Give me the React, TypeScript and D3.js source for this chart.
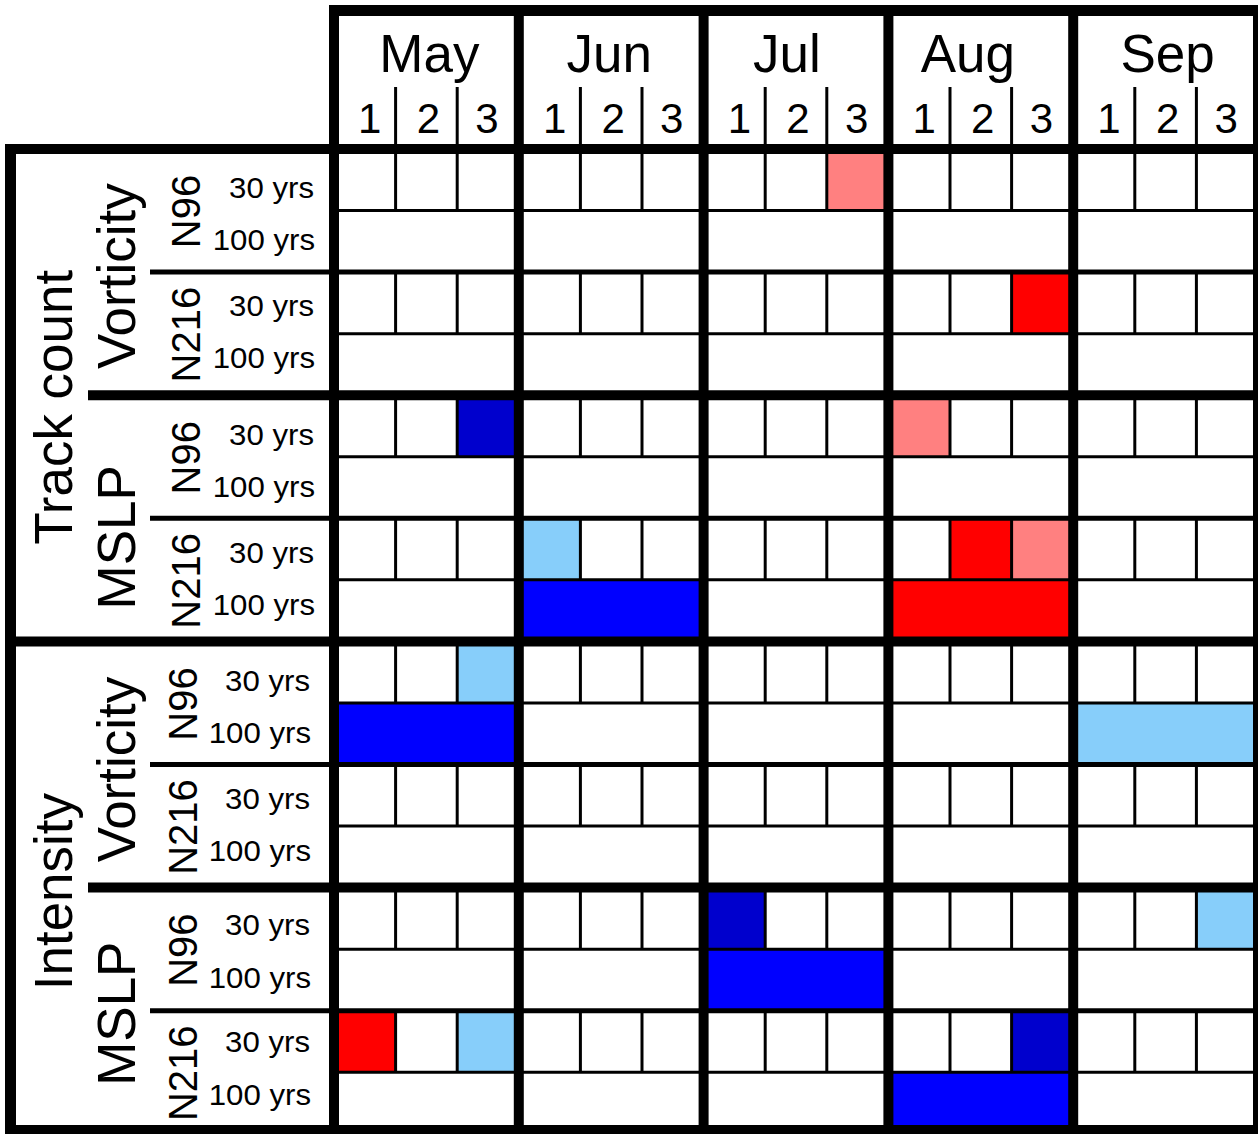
import React from "react";
import * as d3 from "d3";

// ---------- data ----------
const months = ["May", "Jun", "Jul", "Aug", "Sep"];
const dekads = ["1", "2", "3"];
const metrics = ["Track count", "Intensity"];
const variables = ["Vorticity", "MSLP"];
const resolutions = ["N96", "N216"];
const periods = ["30 yrs", "100 yrs"];

// significance codes: "R" strong +, "r" weak +, "B" strong -, "D" strong - (dark), "b" weak -, "" none
// 30-yr rows: one code per dekad (15); 100-yr rows: one code per month (5)
const tcVortN96y30 = ["", "", "", "", "", "", "", "", "r", "", "", "", "", "", ""];
const tcVortN96y100 = ["", "", "", "", ""];
const tcVortN216y30 = ["", "", "", "", "", "", "", "", "", "", "", "R", "", "", ""];
const tcVortN216y100 = ["", "", "", "", ""];
const tcMslpN96y30 = ["", "", "D", "", "", "", "", "", "", "r", "", "", "", "", ""];
const tcMslpN96y100 = ["", "", "", "", ""];
const tcMslpN216y30 = ["", "", "", "b", "", "", "", "", "", "", "R", "r", "", "", ""];
const tcMslpN216y100 = ["", "B", "", "R", ""];
const inVortN96y30 = ["", "", "b", "", "", "", "", "", "", "", "", "", "", "", ""];
const inVortN96y100 = ["B", "", "", "", "b"];
const inVortN216y30 = ["", "", "", "", "", "", "", "", "", "", "", "", "", "", ""];
const inVortN216y100 = ["", "", "", "", ""];
const inMslpN96y30 = ["", "", "", "", "", "", "D", "", "", "", "", "", "", "", "b"];
const inMslpN96y100 = ["", "", "B", "", ""];
const inMslpN216y30 = ["R", "", "b", "", "", "", "", "", "", "", "", "D", "", "", ""];
const inMslpN216y100 = ["", "", "", "B", ""];

const rowValues = [
  tcVortN96y30, tcVortN96y100, tcVortN216y30, tcVortN216y100,
  tcMslpN96y30, tcMslpN96y100, tcMslpN216y30, tcMslpN216y100,
  inVortN96y30, inVortN96y100, inVortN216y30, inVortN216y100,
  inMslpN96y30, inMslpN96y100, inMslpN216y30, inMslpN216y100,
];

const codes = ["", "R", "r", "B", "D", "b"];
const codeColors = ["#ffffff", "#ff0000", "#ff8080", "#0000ff", "#0000cd", "#87cefa"];

// ---------- layout ----------
const W = 1258;
const H = 1134;
const GL = 334, GR = 1258, GT = 149, GB = 1133.8;
const FONT = "'Liberation Sans', Arial, Helvetica, sans-serif";
const THICK = 10, MED = 5, THIN = 3;
const monthNudge = [3, -2, -9, -13, 2];
const dekadNudge = [5, 2, -1];
const periodOffset = [38, 33, 38.8, 33.7, 38.6, 33.5, 37, 31];
const metricOffset = [12, 4];
const variableOffset = [4, 19, 5, 3];

export default function App() {
  const dekadKeys = months.flatMap((m) => dekads.map((d) => m + d));
  const xMonth = d3.scaleBand<string>().domain(months).range([GL, GR]);
  const xDek = d3.scaleBand<string>().domain(dekadKeys).range([GL, GR]);
  const yRow = d3.scaleBand<number>().domain(d3.range(16)).range([GT, GB]);
  const color = d3.scaleOrdinal<string, string>().domain(codes).range(codeColors);
  const rh = yRow.bandwidth();

  const cells: any[] = [];
  rowValues.forEach((vals, r) => {
    const y = yRow(r)!;
    if (r % 2 === 0) {
      vals.forEach((c, i) => {
        cells.push(<rect key={`c${r}-${i}`} x={xDek(dekadKeys[i])} y={y} width={xDek.bandwidth()} height={rh} fill={color(c)} />);
      });
    } else {
      vals.forEach((c, i) => {
        cells.push(<rect key={`c${r}-${i}`} x={xMonth(months[i])} y={y} width={xMonth.bandwidth()} height={rh} fill={color(c)} />);
      });
    }
  });

  const lines: any[] = [];
  const L = (k: string, x1: number, y1: number, x2: number, y2: number, w: number) =>
    lines.push(<line key={k} x1={x1} y1={y1} x2={x2} y2={y2} stroke="#000" strokeWidth={w} />);

  // dekad separators (header + 30 yr rows)
  months.forEach((m) => {
    [m + "2", m + "3"].forEach((k) => {
      const x = xDek(k)!;
      L(`hd${k}`, x, 87, x, GT, THIN);
      for (let r = 0; r < 16; r += 2) L(`gd${k}${r}`, x, yRow(r)!, x, yRow(r)! + rh, THIN);
    });
  });
  // horizontal separators
  for (let r = 1; r < 16; r++) {
    const y = yRow(r)!;
    if (r % 2 === 1) L(`p${r}`, GL, y, GR, y, THIN);
    else if (r % 4 === 2) L(`res${r}`, 150, y, GR, y, MED);
    else if (r % 8 === 4) L(`var${r}`, 88, y, GR, y, THICK);
    else if (r === 8) L(`met${r}`, 5, y, GR, y, THICK);
  }
  // month separators
  months.forEach((m) => {
    const x = xMonth(m)!;
    L(`m${m}`, x, 5, x, H, THICK);
  });
  L("right", GR, 5, GR, H, THICK);
  // outer borders
  L("htop", GL - 5, 10.5, GR, 10.5, 11);
  L("gtop", 5, GT, GR, GT, THICK);
  L("left", 10.5, GT - 5, 10.5, H, 11);
  L("bottom", 5, 1129.5, GR, 1129.5, 9);

  const texts: any[] = [];
  months.forEach((m, i) => {
    texts.push(
      <text key={`mt${m}`} x={xMonth(m)! + xMonth.bandwidth() / 2 + monthNudge[i]} y={72} fontSize={53} textAnchor="middle">{m}</text>
    );
    dekads.forEach((d, j) => {
      const k = m + d;
      texts.push(
        <text key={`dt${k}`} x={xDek(k)! + xDek.bandwidth() / 2 + dekadNudge[j]} y={133} fontSize={42} textAnchor="middle">{d}</text>
      );
    });
  });

  // period & resolution labels
  for (let b = 0; b < 8; b++) {
    const top = yRow(b * 2)!;
    const metricIdx = Math.floor(b / 4);
    const resIdx = b % 2;
    const c30 = top + periodOffset[b];
    const xEnd = metricIdx === 0 ? 314 : 310;
    periods.forEach((p, pi) => {
      const cy = c30 + pi * 52.5;
      texts.push(
        <text key={`pt${b}${pi}`} transform={`translate(${xEnd + pi},${cy + 10.7}) scale(1.04,1)`} fontSize={30} textAnchor="end">{p}</text>
      );
    });
    const rc = top + rh + 1;
    const rx = metricIdx === 0 ? 200 : 197;
    texts.push(
      <text key={`rt${b}`} transform={`translate(${rx},${rc}) rotate(-90)`} fontSize={40} textAnchor="middle">{resolutions[resIdx]}</text>
    );
  }
  // variable labels
  for (let v = 0; v < 4; v++) {
    const top = yRow(v * 4)!;
    const cy = top + 2 * rh + variableOffset[v];
    texts.push(
      <text key={`vt${v}`} transform={`translate(135,${cy}) rotate(-90)`} fontSize={53} textAnchor="middle">{variables[v % 2]}</text>
    );
  }
  // metric labels
  metrics.forEach((m, i) => {
    const cy = yRow(i * 8)! + 4 * rh + metricOffset[i];
    texts.push(
      <text key={`mt2${i}`} transform={`translate(72,${cy}) rotate(-90)`} fontSize={53} textAnchor="middle">{m}</text>
    );
  });

  return (
    <svg width={W} height={H} style={{ position: "absolute", left: 0, top: 0, background: "#fff" }} fontFamily={FONT}>
      <rect x={0} y={0} width={W} height={H} fill="#fff" />
      {cells}
      {lines}
      <g fill="#000">{texts}</g>
    </svg>
  );
}
